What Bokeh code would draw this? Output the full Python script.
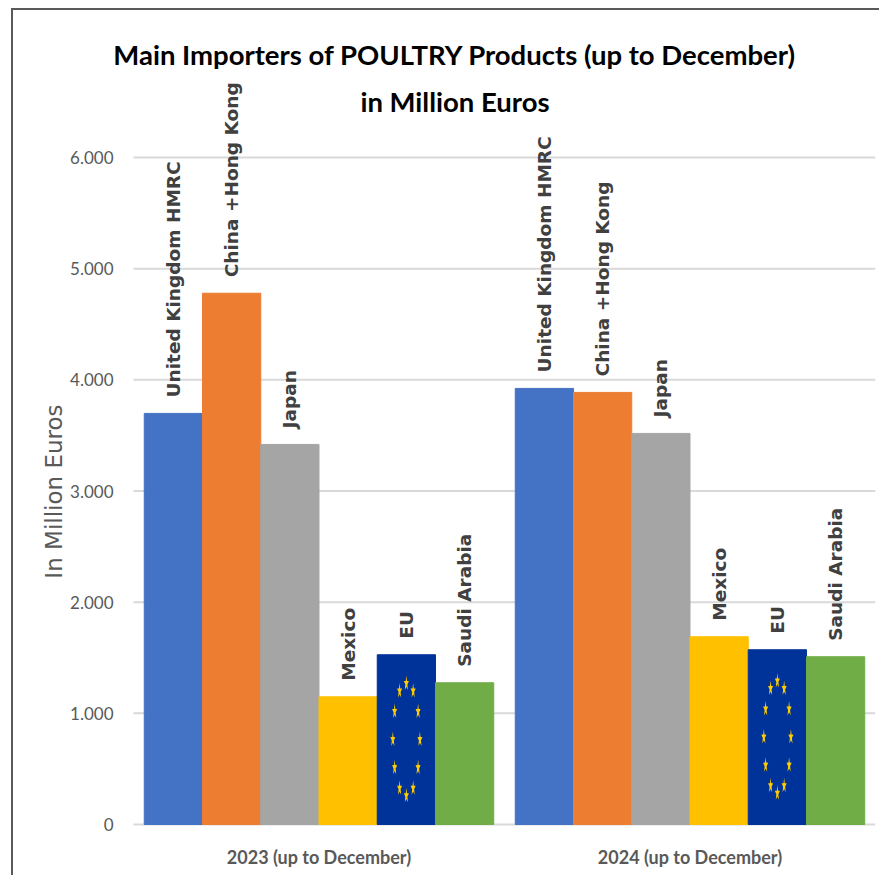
import math
from bokeh.plotting import figure
from bokeh.models import ColumnDataSource, Range1d, FixedTicker, LabelSet, Label
from bokeh.core.properties import value
from bokeh.embed import file_html
from bokeh.resources import INLINE

title_lines = ["Main Importers of POULTRY Products (up to December)", "in Million Euros"]
y_title = "In Million Euros"
years = ["2023 (up to December)", "2024 (up to December)"]
countries = ["United Kingdom HMRC", "China +Hong Kong", "Japan", "Mexico", "EU", "Saudi Arabia"]
colors = ["#4472C4", "#ED7D31", "#A5A5A5", "#FFC000", "#003399", "#70AD47"]
values_2023 = [3698, 4779, 3419, 1149, 1527, 1275]
values_2024 = [3923, 3887, 3518, 1689, 1572, 1509]
y_ticks = [0, 1000, 2000, 3000, 4000, 5000, 6000]
y_tick_labels = ["0", "1.000", "2.000", "3.000", "4.000", "5.000", "6.000"]

BAR_W = 0.157
SANS = "Lato"
PX_PER_UNIT = 667 / 6000
PX_PER_X = 371
MT, ML, BW = 8, 11, 2
FRAME_H = 824 - MT - BW
BELOW_ZERO = 14
LEFT_PX = 133 - ML - BW

p = figure(width=881 - ML - BW, height=877 - MT - BW, output_backend="svg", toolbar_location=None,
           x_range=Range1d(-LEFT_PX / PX_PER_X, 2),
           y_range=Range1d(-BELOW_ZERO / PX_PER_UNIT, FRAME_H / PX_PER_UNIT),
           margin=(MT, 0, 0, ML),
           styles={"border-left": f"{BW}px solid #595959", "border-top": f"{BW}px solid #595959"},
           min_border_left=0, min_border_right=6, min_border_top=0, min_border_bottom=39)
p.outline_line_color = None
p.background_fill_color = "white"

for text, yv in zip(title_lines, [6926, 6505]):
    p.add_layout(Label(x=0.8666, y=yv, text=text, text_align="center", text_baseline="middle",
                       text_font=SANS, text_font_size="27.5px", text_font_style="bold",
                       text_color="#000000"))
p.add_layout(Label(x=-0.2156, y=2995, text=y_title, angle=math.pi / 2, text_align="center",
                   text_baseline="middle", text_font="DejaVu Sans", text_font_size="23px",
                   text_color="#595959"))

# gridlines only span the plotting area
p.segment(x0=[0] * len(y_ticks), x1=[2] * len(y_ticks), y0=y_ticks, y1=y_ticks,
          line_color="#D9D9D9", line_width=2)

xs, tops, cols, labels = [], [], [], []
for g, vals in enumerate([values_2023, values_2024]):
    for j, v in enumerate(vals):
        xs.append(g + 0.5 + (j - 2.5) * BAR_W)
        tops.append(v)
        cols.append(colors[j])
        labels.append(countries[j])
src = ColumnDataSource(dict(x=xs, top=tops, color=cols, label=labels))
p.vbar(x="x", top="top", bottom=0, width=BAR_W, color="color", source=src)

# EU flag stars: twelve narrow stars on an ellipse in the EU bars
sx, sy = [], []
for g, vals in enumerate([values_2023, values_2024]):
    cx = g + 0.5 + 1.5 * BAR_W
    cy = vals[4] * 0.5
    for k in range(12):
        a = 2 * math.pi * k / 12
        px = cx + 0.0365 * math.sin(a)
        py = cy + 505 * math.cos(a)
        xp, yp = [], []
        for n in range(10):
            r = 1.0 if n % 2 == 0 else 0.4
            b = 2 * math.pi * n / 10
            xp.append(px + 0.0072 * r * math.sin(b))
            yp.append(py + 72 * r * math.cos(b))
        sx.append(xp)
        sy.append(yp)
p.patches(sx, sy, fill_color="#FFCC00", line_color=None)

ls = LabelSet(x="x", y="top", text="label", source=src, angle=math.pi / 2,
              text_align="left", text_baseline="middle", y_offset=16,
              text_font=value("DejaVu Sans"), text_font_size=value("18.5px"),
              text_font_style=value("bold"), text_color=value("#404040"))
p.add_layout(ls)

p.grid.visible = False
p.yaxis.fixed_location = 0
p.yaxis.ticker = FixedTicker(ticks=y_ticks)
p.yaxis.major_label_overrides = dict(zip(y_ticks, y_tick_labels))
p.yaxis.axis_line_color = None
p.yaxis.major_tick_line_color = None
p.yaxis.minor_tick_line_color = None
p.yaxis.major_label_text_font = SANS
p.yaxis.major_label_text_font_size = "17px"
p.yaxis.major_label_text_color = "#595959"
p.yaxis.major_label_standoff = 14

p.xaxis.ticker = FixedTicker(ticks=[0.5, 1.5])
p.xaxis.major_label_overrides = {0.5: years[0], 1.5: years[1]}
p.xaxis.axis_line_color = None
p.xaxis.major_tick_line_color = None
p.xaxis.minor_tick_line_color = None
p.xaxis.major_label_text_font = SANS
p.xaxis.major_label_text_font_style = "bold"
p.xaxis.major_label_text_font_size = "18px"
p.xaxis.major_label_text_color = "#595959"
p.xaxis.major_label_standoff = 1

open("out.html", "w").write(file_html(p, INLINE))
